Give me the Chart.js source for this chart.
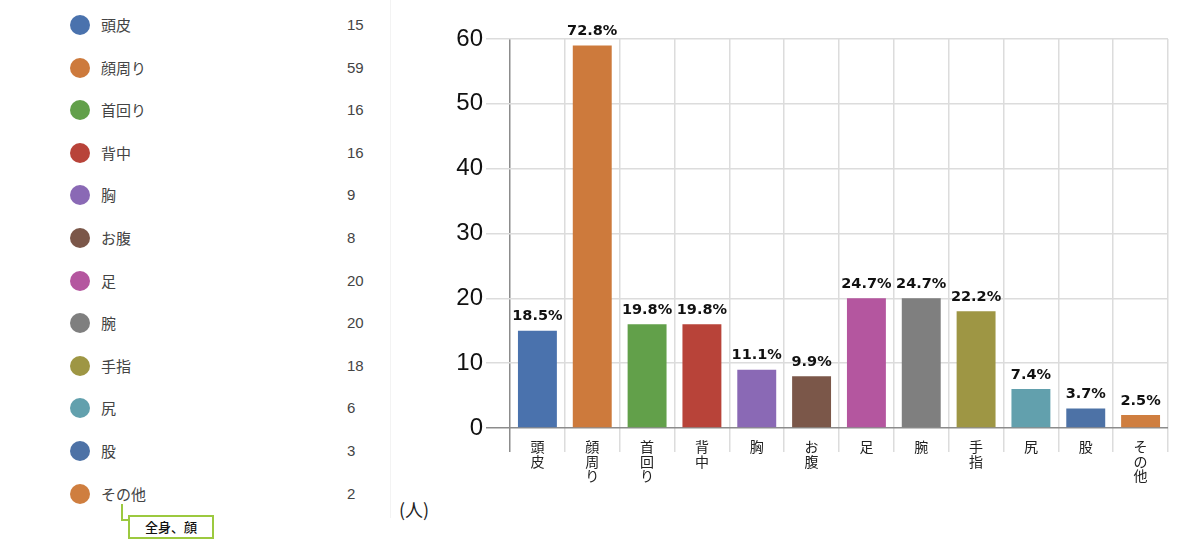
<!DOCTYPE html>
<html>
<head>
<meta charset="utf-8">
<script src="https://cdn.jsdelivr.net/npm/chart.js@4"></script>
<style>
  body { margin: 0; background: #fff; width: 1200px; height: 540px; position: relative; overflow: hidden;
         font-family: 'Noto Sans CJK JP', 'Noto Sans', sans-serif; }
  #list { position: absolute; left: 0; top: 0; }
  .row { position: absolute; height: 20px; width: 380px; }
  .dot { position: absolute; left: 70px; top: 0; width: 20px; height: 20px; border-radius: 50%; }
  .lbl { position: absolute; left: 101px; top: -1px; font-size: 15px; line-height: 22px; color: #444; }
  .val { position: absolute; left: 347px; top: -1px; font-size: 15px; line-height: 22px; color: #444;
         font-family: 'Liberation Sans', Arial, sans-serif; }
  #divider { position: absolute; left: 390px; top: 0; width: 1px; height: 518px; background: #f3f3f3; }
  #unit { position: absolute; left: 399px; top: 496px; font-size: 18px; color: #222; }
  #callLine { position: absolute; left: 121px; top: 504px; width: 7px; height: 15px;
              border-left: 2px solid #9cc93f; border-bottom: 2px solid #9cc93f; }
  #callBox { position: absolute; left: 128px; top: 515px; width: 82px; height: 20px;
             border: 2px solid #9cc93f; font-size: 13px; line-height: 20px; text-align: center;
             color: #111; font-weight: 500; }
  #wrap { position: absolute; left: 430px; top: 0; width: 770px; height: 540px; }
</style>
</head>
<body>
<div id="list"></div>
<div id="divider"></div>
<div id="unit">(人)</div>
<div id="callLine"></div>
<div id="callBox">全身、顔</div>
<div id="wrap"><canvas id="bars"></canvas></div>
<script>
const categories = ['頭皮', '顔周り', '首回り', '背中', '胸', 'お腹', '足', '腕', '手指', '尻', '股', 'その他'];
const counts = [15, 59, 16, 16, 9, 8, 20, 20, 18, 6, 3, 2];
const percents = [18.5, 72.8, 19.8, 19.8, 11.1, 9.9, 24.7, 24.7, 22.2, 7.4, 3.7, 2.5];
const yTicks = [0, 10, 20, 30, 40, 50, 60];
const colors = ['#4a72ad', '#cd7a3c', '#62a04a', '#b84339', '#8a69b5', '#7b5749',
                '#b4569f', '#7f7f7f', '#9e9644', '#62a0ad', '#4d72a6', '#cf7e3f'];

// left side list
const list = document.getElementById('list');
categories.forEach(function(name, i) {
  const row = document.createElement('div');
  row.className = 'row';
  row.style.top = (15 + i * 42.6) + 'px';
  row.innerHTML = '<div class="dot" style="background:' + colors[i] + '"></div>' +
                  '<div class="lbl">' + name + '</div><div class="val">' + counts[i] + '</div>';
  list.appendChild(row);
});

// percent labels above bars
const pctLabels = {
  id: 'pctLabels',
  afterDatasetsDraw(chart) {
    const c = chart.ctx;
    const meta = chart.getDatasetMeta(0);
    c.save();
    c.font = 'bold 14.5px "DejaVu Sans", Verdana, sans-serif';
    c.fillStyle = '#111';
    c.textAlign = 'center';
    c.textBaseline = 'bottom';
    meta.data.forEach(function(bar, i) {
      c.fillText(percents[i] + '%', bar.x, bar.y - 7);
    });
    c.restore();
  }
};

const ctx = document.getElementById('bars').getContext('2d');
const chart = new Chart(ctx, {
  type: 'bar',
  data: {
    labels: categories.map(s => Array.from(s)),
    datasets: [{
      data: counts,
      backgroundColor: colors,
      barPercentage: 0.71,
      categoryPercentage: 1.0
    }]
  },
  options: {
    responsive: true,
    maintainAspectRatio: false,
    animation: false,
    layout: { padding: { top: 39, right: 32, bottom: 0, left: 0 } },
    scales: {
      x: {
        afterFit(scale) { scale.height = 112; },
        grid: {
          offset: true,
          tickLength: 24,
          lineWidth: 1.5,
          color: (c) => c.index === 0 ? '#8c8c8c' : (c.index >= categories.length ? 'rgba(0,0,0,0)' : '#dcdcdc')
        },
        border: { display: false },
        ticks: {
          padding: -12,
          color: '#222',
          font: { family: "'Noto Sans CJK JP', sans-serif", size: 14, lineHeight: 1.02 }
        }
      },
      y: {
        min: 0,
        max: 60,
        afterFit(scale) { scale.width = 80; },
        afterBuildTicks(scale) { scale.ticks = yTicks.map(v => ({ value: v })); },
        grid: {
          tickLength: 24,
          lineWidth: 1.5,
          color: (c) => c.tick && c.tick.value === 0 ? '#8c8c8c' : '#dcdcdc'
        },
        border: { display: false },
        ticks: {
          padding: 3,
          color: '#111',
          font: { family: "'Liberation Sans', Arial, sans-serif", size: 24 }
        }
      }
    },
    plugins: {
      legend: { display: false },
      tooltip: { enabled: false }
    }
  },
  plugins: [pctLabels]
});
</script>
</body>
</html>
